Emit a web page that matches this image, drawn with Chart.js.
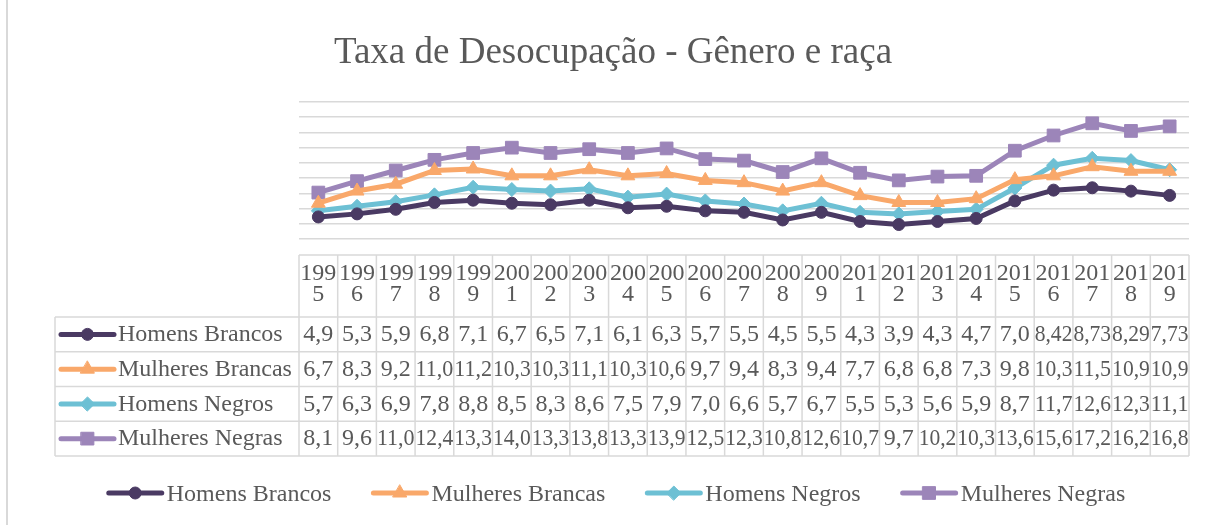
<!DOCTYPE html>
<html>
<head>
<meta charset="utf-8">
<script src="https://cdn.jsdelivr.net/npm/chart.js@4/dist/chart.umd.min.js"></script>
<style>
  body { margin: 0; background: #fff; }
  #wrap { width: 1216px; height: 525px; position: relative; }
</style>
</head>
<body>
<div id="wrap"><canvas id="chart"></canvas></div>
<script>
const years = ["1995", "1996", "1997", "1998", "1999", "2001", "2002", "2003", "2004", "2005", "2006", "2007",
    "2008", "2009", "2011", "2012", "2013", "2014", "2015", "2016", "2017", "2018", "2019"];

const homensBrancos = [4.9, 5.3, 5.9, 6.8, 7.1, 6.7, 6.5, 7.1, 6.1, 6.3, 5.7, 5.5, 4.5, 5.5, 4.3, 3.9, 4.3, 4.7, 7.0, 8.42, 8.73, 8.29, 7.73];
const mulheresBrancas = [6.7, 8.3, 9.2, 11.0, 11.2, 10.3, 10.3, 11.1, 10.3, 10.6, 9.7, 9.4, 8.3, 9.4, 7.7, 6.8, 6.8, 7.3, 9.8, 10.3, 11.5, 10.9, 10.9];
const homensNegros = [5.7, 6.3, 6.9, 7.8, 8.8, 8.5, 8.3, 8.6, 7.5, 7.9, 7.0, 6.6, 5.7, 6.7, 5.5, 5.3, 5.6, 5.9, 8.7, 11.7, 12.6, 12.3, 11.1];
const mulheresNegras = [8.1, 9.6, 11.0, 12.4, 13.3, 14.0, 13.3, 13.8, 13.3, 13.9, 12.5, 12.3, 10.8, 12.6, 10.7, 9.7, 10.2, 10.3, 13.6, 15.6, 17.2, 16.2, 16.8];

const title = "Taxa de Desocupação - Gênero e raça";

const FONT = "'Liberation Serif', 'Times New Roman', serif";
const TEXT = "#595959";
const GRID = "#d9d9d9";

function series(label, data, color, pointStyle, radius) {
    return {
        label,
        data,
        borderColor: color,
        backgroundColor: color,
        borderWidth: 5,
        pointStyle,
        pointRadius: radius,
        pointHoverRadius: radius,
        pointBorderWidth: 1,
        tension: 0,
    };
}

// decimal comma, keep 2 places where the source has them
function fmt(v) {
    const one = Math.abs(v * 10 - Math.round(v * 10)) < 1e-9;
    return v.toFixed(one ? 1 : 2).replace(".", ",");
}

function drawIcon(ctx, x, y, ds) {
    ctx.save();
    ctx.strokeStyle = ds.borderColor;
    ctx.fillStyle = ds.backgroundColor;
    ctx.lineWidth = 5;
    ctx.lineCap = "round";
    ctx.beginPath();
    ctx.moveTo(x + 2, y);
    ctx.lineTo(x + 55, y);
    ctx.stroke();
    ctx.lineWidth = 1;
    Chart.helpers.drawPoint(ctx, { pointStyle: ds.pointStyle, radius: ds.pointRadius, rotation: 0, borderWidth: 1 }, x + 28.5, y);
    ctx.restore();
}

// Excel-style data table + legend + title centred on the whole canvas
const tablePlugin = {
    id: "dataTable",
    afterDraw(chart) {
        const ctx = chart.ctx;
        const area = chart.chartArea;
        const xs = chart.scales.x;
        const n = years.length;
        const w = (area.right - area.left) / n;
        const L = area.left, R = area.right;
        const top = 255, headH = 62, rowH = 34.75, left = 55;
        const rows = chart.data.datasets;
        const bottom = top + headH + rowH * rows.length;

        ctx.save();
        ctx.fillStyle = TEXT;
        ctx.font = "37px " + FONT;
        ctx.textAlign = "center";
        ctx.textBaseline = "alphabetic";
        ctx.fillText(title, 613, 63);

        // chart-area border on the left
        ctx.strokeStyle = GRID;
        ctx.lineWidth = 2;
        ctx.beginPath();
        ctx.moveTo(7, 0);
        ctx.lineTo(7, 525);
        ctx.stroke();

        ctx.lineWidth = 1.5;
        ctx.beginPath();
        ctx.moveTo(L, top);
        ctx.lineTo(R, top);
        for (let r = 0; r <= rows.length; r++) {
            const y = top + headH + r * rowH;
            ctx.moveTo(left, y);
            ctx.lineTo(R, y);
        }
        for (let k = 0; k <= n; k++) {
            ctx.moveTo(L + k * w, top);
            ctx.lineTo(L + k * w, bottom);
        }
        ctx.moveTo(left, top + headH);
        ctx.lineTo(left, bottom);
        ctx.stroke();

        ctx.font = "24px " + FONT;
        years.forEach((yr, i) => {
            const cx = xs.getPixelForValue(i);
            ctx.fillText(yr.slice(0, 3), cx, top + 25, w - 2);
            ctx.fillText(yr.slice(3), cx, top + 46);
        });

        rows.forEach((ds, r) => {
            const y0 = top + headH + r * rowH;
            drawIcon(ctx, 59, y0 + rowH / 2, ds);
            ctx.fillStyle = TEXT;
            ctx.textAlign = "left";
            ctx.fillText(ds.label, 118, y0 + 24);
            ctx.textAlign = "center";
            ds.data.forEach((v, i) => {
                ctx.fillText(fmt(v), xs.getPixelForValue(i), y0 + 24, w - 1);
            });
        });

        // legend under the table
        const gapIcon = 60, gapItem = 40;
        const widths = rows.map((ds) => gapIcon + ctx.measureText(ds.label).width);
        const total = widths.reduce((a, b) => a + b, 0) + gapItem * (rows.length - 1);
        let x = 616 - total / 2;
        const ly = 493;
        rows.forEach((ds, r) => {
            drawIcon(ctx, x, ly, ds);
            ctx.fillStyle = TEXT;
            ctx.textAlign = "left";
            ctx.fillText(ds.label, x + gapIcon, ly + 8);
            x += widths[r] + gapItem;
        });
        ctx.restore();
    },
};

new Chart(document.getElementById("chart"), {
    type: "line",
    data: {
        labels: years,
        datasets: [
            series("Homens Brancos", homensBrancos, "#4a3a63", "circle", 6),
            series("Mulheres Brancas", mulheresBrancas, "#f9a86a", "triangle", 8),
            series("Homens Negros", homensNegros, "#6dc0d4", "rectRot", 7),
            series("Mulheres Negras", mulheresNegras, "#9c85b9", "rect", 9),
        ],
    },
    options: {
        responsive: true,
        maintainAspectRatio: false,
        animation: false,
        layout: {
            padding: { left: 299, right: 27, top: 102, bottom: 286 },
        },
        plugins: {
            legend: { display: false },
            tooltip: { enabled: false },
            title: { display: false },
        },
        scales: {
            x: {
                display: false,
                offset: true,
            },
            y: {
                min: 2,
                max: 20,
                ticks: { display: false, stepSize: 2 },
                border: { display: false },
                grid: { color: GRID, lineWidth: 1.5, drawTicks: false },
            },
        },
    },
    plugins: [tablePlugin],
});
</script>
</body>
</html>
